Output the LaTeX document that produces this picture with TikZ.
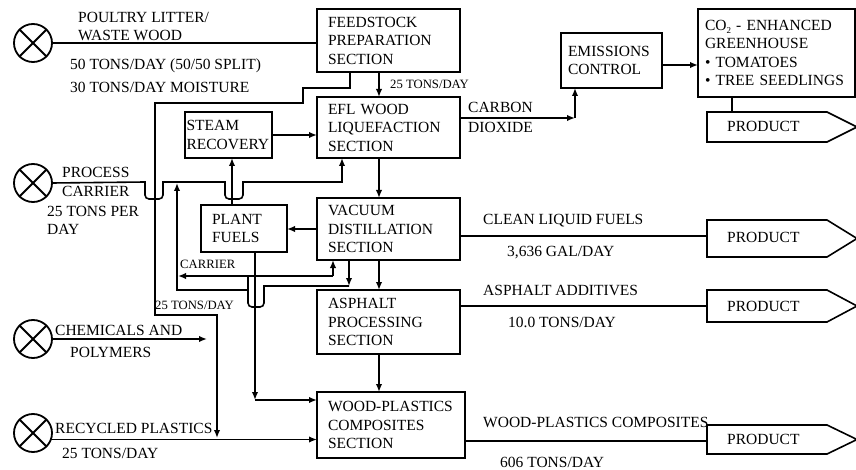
\documentclass[tikz,border=0pt]{standalone}
\usepackage{fontspec}
\setmainfont{Liberation Serif}
\usetikzlibrary{arrows.meta}
\newcommand\fA{\fontsize{15.5}{18.5}\selectfont}
\newcommand\fB{\fontsize{12.7}{14}\selectfont}
\begin{document}
\begin{tikzpicture}[x=1pt,y=-1pt,
  ln/.style={line width=1.6pt},
  arr/.style={line width=1.6pt,-{Latex[length=8pt,width=6.5pt]}},
  box/.style={draw,line width=1.6pt,anchor=north west,align=left,inner ysep=0pt,outer sep=0pt,font=\fA},
  lbl/.style={anchor=base west,inner sep=0pt,font=\fA},
  sm/.style={anchor=base west,inner sep=0pt,font=\fB},
  src/.style={circle,draw,line width=1.8pt,minimum size=38pt,inner sep=0pt,outer sep=0pt,
    path picture={\draw[line width=1.8pt] (path picture bounding box.south west)--(path picture bounding box.north east)
      (path picture bounding box.north west)--(path picture bounding box.south east);}}]
\useasboundingbox (0,0) rectangle (856,470);
\clip (0,0) rectangle (856,470);
% boxes
\node[box,minimum height=63pt,text width=121pt,inner xsep=11pt] (feed) at (317,9) {FEEDSTOCK\\PREPARATION\\SECTION};
\node[box,minimum height=61pt,text width=121pt,inner xsep=11pt] (efl) at (317,97) {EFL WOOD\\LIQUEFACTION\\SECTION};
\node[box,minimum height=62pt,text width=121pt,inner xsep=11pt] (vac) at (317,198) {VACUUM\\DISTILLATION\\SECTION};
\node[box,minimum height=64pt,text width=121pt,inner xsep=11pt] (asph) at (317,290) {ASPHALT\\PROCESSING\\SECTION};
\node[box,minimum height=66pt,text width=126pt,inner xsep=11pt] (wpc) at (317,392) {WOOD-PLASTICS\\COMPOSITES\\SECTION};
\node[box,minimum height=46pt,text width=84pt,inner xsep=1.5pt] (steam) at (185,112) {STEAM\\RECOVERY};
\node[box,minimum height=47pt,text width=64pt,inner xsep=11pt] (plant) at (201,205) {PLANT\\FUELS};
\node[box,minimum height=55pt,text width=87pt,inner xsep=7pt] (emis) at (561,33) {EMISSIONS\\CONTROL};
\node[box,minimum height=88pt,text width=143pt,inner xsep=7pt] (green) at (698,9) {CO\raisebox{-3pt}{\fontsize{9}{9}\selectfont 2} - ENHANCED\\GREENHOUSE\\\mbox{• TOMATOES}\\\mbox{• TREE SEEDLINGS}};
% sources
\node[src] (c1) at (33,43) {};
\node[src] (c2) at (33,183) {};
\node[src] (c3) at (33,339) {};
\node[src] (c4) at (33,433) {};
% products
\coordinate (p1) at (707,112);
\coordinate (p2) at (707,220);
\coordinate (p3) at (707,290);
\coordinate (p4) at (707,425);
\draw[ln] (p1) -- (827,112) -- (857,127) -- (827,142) -- (707,142) -- cycle;
\draw[ln] (p2) -- (827,220) -- (857,238.5) -- (827,257) -- (707,257) -- cycle;
\draw[ln] (p3) -- (827,290) -- (857,306) -- (827,322) -- (707,322) -- cycle;
\draw[ln] (p4) -- (827,425) -- (857,439.5) -- (827,454) -- (707,454) -- cycle;
\node[lbl] (t1) at (727,132) {PRODUCT};
\node[lbl] (t2) at (727,243) {PRODUCT};
\node[lbl] (t3) at (727,311) {PRODUCT};
\node[lbl] (t4) at (727,444) {PRODUCT};
% labels
\node[lbl] (l1) at (78,23) {POULTRY LITTER/};
\node[lbl] (l2) at (78,41) {WASTE WOOD};
\node[lbl] (l3) at (70,70) {50 TONS/DAY (50/50 SPLIT)};
\node[lbl] (l4) at (70,93) {30 TONS/DAY MOISTURE};
\node[lbl] (l5) at (62,178) {PROCESS};
\node[lbl] (l6) at (62,197) {CARRIER};
\node[lbl] (l7) at (47,217) {25 TONS PER};
\node[lbl] (l8) at (47,235) {DAY};
\node[lbl] (l9) at (55,335) {CHEMICALS AND};
\node[lbl] (l10) at (70,357) {POLYMERS};
\node[lbl] (l11) at (55,433) {RECYCLED PLASTICS};
\node[lbl] (l12) at (62,458) {25 TONS/DAY};
\node[lbl] (l13) at (468,113) {CARBON};
\node[lbl] (l14) at (468,133) {DIOXIDE};
\node[lbl] (l15) at (483,225) {CLEAN LIQUID FUELS};
\node[lbl] (l16) at (507,257) {3,636 GAL/DAY};
\node[lbl] (l17) at (483,295) {ASPHALT ADDITIVES};
\node[lbl] (l18) at (508,327) {10.0 TONS/DAY};
\node[lbl] (l19) at (483,427) {WOOD-PLASTICS COMPOSITES};
\node[lbl] (l20) at (500,467) {606 TONS/DAY};
\node[sm] (s1) at (390,89) {25 TONS/DAY};
\node[sm] (s2) at (180,269) {CARRIER};
\node[sm] (s3) at (155,309) {25 TONS/DAY};
% connectors
\draw[ln] (c1.east) -- (c1.east -| feed.west);
\draw[arr] ([xshift=62pt]feed.south west) -- ([xshift=62pt]efl.north west);
\draw[arr] ([xshift=62pt]efl.south west) -- ([xshift=62pt]vac.north west);
\draw[arr] ([xshift=62pt]vac.south west) -- ([xshift=62pt]asph.north west);
\draw[arr] ([xshift=62pt]asph.south west) -- ([xshift=62pt]wpc.north west);
\coordinate (rj) at (217,438);
\draw[arr] ([xshift=33pt]feed.south west) -- (350,88) -- (303,88) -- (303,103) -- (155,103) -- (155,315) -- (217,315) -- (rj);
\draw[arr] (c2.east) -- (145,182) [rounded corners=4pt] -- (145,199) -- (163,199) [sharp corners] -- (163,182) -- (225,182)
  [rounded corners=4pt] -- (225,199) -- (243,199) [sharp corners] -- (243,182) -- (342,182) -- ([xshift=25pt]efl.south west);
\draw[arr] ([xshift=31pt]plant.north west) -- ([xshift=47pt]steam.south west);
\draw[arr] (steam.east) -- (steam.east -| efl.west);
\draw[arr] ([yshift=-31pt]vac.north west) coordinate (vp) -- (vp -| plant.east);
\coordinate (pf) at (255,400);
\draw[arr] ([xshift=54pt]plant.south west) -- (pf);
\draw[arr] (pf) -- (pf -| wpc.west);
\coordinate (cj) at (333,276);
\draw[arr] (cj) -- ([xshift=16pt]vac.south west);
\draw[arr] (cj) -- (178,276);
\coordinate (dj) at (349,286);
\draw[arr] ([xshift=32pt]vac.south west) -- (dj);
\draw[ln] (dj) -- (264,286) [rounded corners=4pt] -- (264,307) -- (248,307) [sharp corners] -- (248,276);
\draw[arr] (248,290) -- (177,290) -- (177,183);
\coordinate (ce) at (207,339);
\draw[arr] (c3.east) -- (ce);
\draw[arr] (c4.-20) -- (c4.-20 -| wpc.west);
\coordinate (eb) at ([xshift=14pt]emis.south west);
\draw[arr] ([yshift=-21pt]efl.north east) coordinate (co) -- (co -| eb);
\draw[arr] (co -| eb) -- (eb);
\draw[arr] ([yshift=-32pt]emis.north east) coordinate (eg) -- (eg -| green.west);
\draw[ln] ([xshift=34pt]green.south west) coordinate (g1) -- (g1 |- p1);
\draw[ln] ([yshift=-38pt]vac.north east) coordinate (v2) -- (v2 -| p2);
\draw[ln] ([yshift=-16pt]asph.north east) coordinate (a2) -- (a2 -| p3);
\draw[ln] ([yshift=-49pt]wpc.north east) coordinate (w2) -- (w2 -| p4);
\end{tikzpicture}
\end{document}
